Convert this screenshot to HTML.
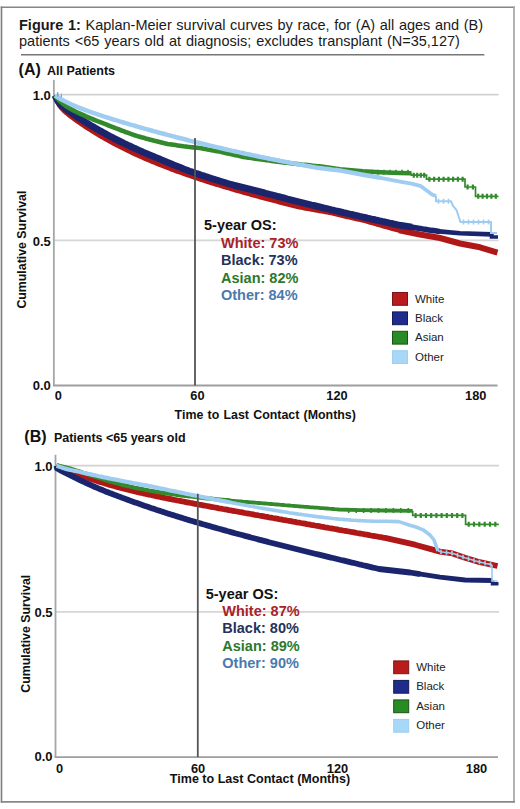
<!DOCTYPE html>
<html><head><meta charset="utf-8">
<style>
html,body{margin:0;padding:0;background:#fff;overflow:hidden;}
svg{display:block;}
text{font-family:"Liberation Sans",sans-serif;}
</style></head><body>
<svg width="520" height="809" viewBox="0 0 520 809">
<rect x="0" y="0" width="520" height="809" fill="#fff"/>
<line x1="0.7" y1="7.2" x2="514.8" y2="7.2" stroke="#858585" stroke-width="1.6"/>
<line x1="1.5" y1="6.4" x2="1.5" y2="802.6" stroke="#7c7c7c" stroke-width="1.6"/>
<line x1="514" y1="6.4" x2="514" y2="802.6" stroke="#a5a5a5" stroke-width="1.7"/>
<line x1="0.7" y1="801.9" x2="514.8" y2="801.9" stroke="#888" stroke-width="1.7"/>
<text x="19" y="29.5" font-size="14.5" fill="#1a1a1a" word-spacing="0.6"><tspan font-weight="bold">Figure 1:</tspan> Kaplan-Meier survival curves by race, for (A) all ages and (B)</text>
<text x="19" y="46.3" font-size="14.5" fill="#1a1a1a" word-spacing="0.9">patients &lt;65 years old at diagnosis; excludes transplant (N=35,127)</text>
<line x1="21" y1="54.8" x2="484.4" y2="54.8" stroke="#777" stroke-width="1.6"/>
<line x1="53.6" y1="94.7" x2="498.6" y2="94.7" stroke="#d2d2d2" stroke-width="1.8"/>
<line x1="53.6" y1="240.3" x2="498.6" y2="240.3" stroke="#d6d6d6" stroke-width="1.8"/>
<line x1="53.85" y1="80" x2="53.85" y2="385.5" stroke="#a6a6a6" stroke-width="1.8"/>
<line x1="52.95" y1="385.5" x2="497.5" y2="385.5" stroke="#9e9e9e" stroke-width="1.9"/>
<text x="50.8" y="99.9" text-anchor="end" font-size="13" font-weight="bold" fill="#111">1.0</text>
<text x="50.8" y="245.5" text-anchor="end" font-size="13" font-weight="bold" fill="#111">0.5</text>
<text x="50.8" y="390.3" text-anchor="end" font-size="13" font-weight="bold" fill="#111">0.0</text>
<text x="58.2" y="400.4" text-anchor="middle" font-size="12.8" font-weight="bold" fill="#111">0</text>
<text x="197.4" y="400.4" text-anchor="middle" font-size="12.8" font-weight="bold" fill="#111">60</text>
<text x="337" y="400.4" text-anchor="middle" font-size="12.8" font-weight="bold" fill="#111">120</text>
<text x="475.7" y="400.4" text-anchor="middle" font-size="12.8" font-weight="bold" fill="#111">180</text>
<text x="174.6" y="419.3" font-size="12.4" font-weight="bold" fill="#111" word-spacing="0.8">Time to Last Contact (Months)</text>
<text transform="translate(25.8,308.6) rotate(-90)" font-size="12.35" font-weight="bold" fill="#111">Cumulative Survival</text>
<text x="18.6" y="74.8" font-size="16" font-weight="bold" fill="#111">(A)</text>
<text x="47" y="75.3" font-size="12.5" font-weight="bold" fill="#111">All Patients</text>
<text x="204" y="230.3" font-size="14.5" font-weight="bold" fill="#111">5-year OS:</text>
<text x="221" y="247.70000000000002" font-size="14.5" font-weight="bold" fill="#a82229">White: 73%</text>
<text x="221" y="265.1" font-size="14.5" font-weight="bold" fill="#25325a">Black: 73%</text>
<text x="221" y="282.5" font-size="14.5" font-weight="bold" fill="#2d782d">Asian: 82%</text>
<text x="221" y="299.9" font-size="14.5" font-weight="bold" fill="#4a7aad">Other: 84%</text>
<rect x="392.5" y="292.5" width="15" height="12.8" fill="#b81c1c" stroke="#7a1616" stroke-width="1"/>
<text x="415" y="302.5" font-size="11.5" fill="#222">White</text>
<rect x="392.5" y="311.9" width="15" height="12.8" fill="#1f2c8c" stroke="#121a58" stroke-width="1"/>
<text x="415" y="321.9" font-size="11.5" fill="#222">Black</text>
<rect x="392.5" y="331.3" width="15" height="12.8" fill="#2a8a24" stroke="#175417" stroke-width="1"/>
<text x="415" y="341.3" font-size="11.5" fill="#222">Asian</text>
<rect x="392.5" y="350.7" width="15" height="12.8" fill="#a8d7f7" stroke="#9ccff2" stroke-width="1"/>
<text x="415" y="360.7" font-size="11.5" fill="#222">Other</text>
<polyline points="55.0,95.5 55.5,97.1 57.5,102.1 59.5,105.5 61.5,108.1 63.5,110.1 65.5,112.0 67.5,113.6 69.5,115.2 71.5,116.8 73.5,118.2 75.5,119.7 77.5,121.1 79.5,122.5 81.5,123.9 83.5,125.2 85.5,126.6 87.5,127.9 89.5,129.2 91.5,130.4 93.5,131.7 95.5,132.9 97.5,134.1 99.5,135.3 101.5,136.5 103.5,137.6 105.5,138.8 107.5,139.9 109.5,141.0 111.5,142.1 113.5,143.2 115.5,144.2 117.5,145.3 119.5,146.3 121.5,147.3 123.5,148.3 125.5,149.3 127.5,150.3 129.5,151.3 131.5,152.2 133.5,153.2 135.5,154.1 137.5,155.0 139.5,155.9 141.5,156.8 143.5,157.7 145.5,158.6 147.5,159.4 149.5,160.3 151.5,161.1 153.5,162.0 155.5,162.8 157.5,163.6 159.5,164.4 161.5,165.2 163.5,166.0 165.5,166.8 167.5,167.5 169.5,168.3 171.5,169.1 173.5,169.8 175.5,170.6 177.5,171.3 179.5,172.0 181.5,172.7 183.5,173.4 185.5,174.1 187.5,174.8 189.5,175.5 191.5,176.2 193.5,176.9 195.5,177.6 197.5,178.2 199.5,178.9 201.5,179.6 203.5,180.2 205.5,180.9 207.5,181.5 209.5,182.1 211.5,182.8 213.5,183.4 215.5,184.0 217.5,184.6 219.5,185.2 221.5,185.8 223.5,186.5 225.5,187.1 227.5,187.6 229.5,188.2 231.5,188.8 233.5,189.4 235.5,190.0 237.5,190.6 239.5,191.1 241.5,191.7 243.5,192.3 245.5,192.8 247.5,193.4 249.5,193.9 251.5,194.5 253.5,195.1 255.5,195.6 257.5,196.1 259.5,196.7 261.5,197.2 263.5,197.8 265.5,198.3 267.5,198.8 269.5,199.3 271.5,199.9 273.5,200.4 275.5,200.9 277.5,201.4 279.5,202.0 281.5,202.5 283.5,203.0 285.5,203.5 287.5,204.0 289.5,204.5 291.5,205.0 293.5,205.5 295.5,206.0 297.5,206.5 299.5,207.0 301.5,207.4 303.5,207.8 305.5,208.2 307.5,208.5 309.5,208.9 311.5,209.3 313.5,209.6 315.5,210.0 317.5,210.3 319.5,210.7 321.5,211.1 323.5,211.4 325.5,211.8 327.5,212.1 329.5,212.5 331.5,212.9 333.5,213.4 335.5,213.9 337.5,214.3 339.5,214.8 341.5,215.3 343.5,215.7 345.5,216.2 347.5,216.7 349.5,217.1 351.5,217.6 353.5,218.1 355.5,218.5 357.5,219.0 359.5,219.4 361.5,219.9 363.5,220.4 365.5,220.8 367.5,221.4 369.5,222.0 371.5,222.6 373.5,223.1 375.5,223.7 377.5,224.3 379.5,224.8 381.5,225.4 383.5,226.0 385.5,226.6 387.5,227.1 389.5,227.7 391.5,228.3 393.5,228.8 395.5,229.4 397.5,229.8 399.5,230.3 400.0,230.4" fill="none" stroke="#b01818" stroke-width="5" stroke-linejoin="round" stroke-linecap="butt"/>
<polyline points="399.2,230.2 420.0,234.5 440.0,238.0 460.0,243.5 480.0,247.3 497.5,252.6" fill="none" stroke="#b01818" stroke-width="6" stroke-linejoin="round" stroke-linecap="butt"/>
<polyline points="55.0,95.5 55.5,96.7 57.5,100.4 59.5,103.1 61.5,105.2 63.5,107.0 65.5,108.7 67.5,110.2 69.5,111.6 71.5,113.0 73.5,114.4 75.5,115.7 77.5,117.1 79.5,118.4 81.5,119.7 83.5,120.9 85.5,122.2 87.5,123.4 89.5,124.6 91.5,125.8 93.5,127.0 95.5,128.2 97.5,129.3 99.5,130.5 101.5,131.6 103.5,132.7 105.5,133.8 107.5,134.9 109.5,136.0 111.5,137.0 113.5,138.1 115.5,139.1 117.5,140.1 119.5,141.1 121.5,142.1 123.5,143.1 125.5,144.0 127.5,145.0 129.5,145.9 131.5,146.9 133.5,147.8 135.5,148.7 137.5,149.6 139.5,150.5 141.5,151.4 143.5,152.3 145.5,153.1 147.5,154.0 149.5,154.8 151.5,155.7 153.5,156.5 155.5,157.3 157.5,158.1 159.5,158.9 161.5,159.8 163.5,160.6 165.5,161.5 167.5,162.3 169.5,163.2 171.5,164.0 173.5,164.8 175.5,165.6 177.5,166.4 179.5,167.2 181.5,168.0 183.5,168.8 185.5,169.6 187.5,170.3 189.5,171.1 191.5,171.8 193.5,172.5 195.5,173.2 197.5,173.8 199.5,174.5 201.5,175.2 203.5,175.8 205.5,176.5 207.5,177.1 209.5,177.8 211.5,178.4 213.5,179.1 215.5,179.7 217.5,180.3 219.5,180.9 221.5,181.6 223.5,182.2 225.5,182.8 227.5,183.4 229.5,184.0 231.5,184.5 233.5,185.1 235.5,185.6 237.5,186.1 239.5,186.6 241.5,187.1 243.5,187.6 245.5,188.1 247.5,188.6 249.5,189.1 251.5,189.6 253.5,190.1 255.5,190.6 257.5,191.1 259.5,191.6 261.5,192.1 263.5,192.6 265.5,193.2 267.5,193.7 269.5,194.3 271.5,194.8 273.5,195.3 275.5,195.8 277.5,196.4 279.5,196.9 281.5,197.4 283.5,197.9 285.5,198.4 287.5,199.0 289.5,199.5 291.5,200.0 293.5,200.5 295.5,201.0 297.5,201.5 299.5,202.0 301.5,202.5 303.5,203.0 305.5,203.5 307.5,204.0 309.5,204.5 311.5,205.0 313.5,205.4 315.5,205.9 317.5,206.4 319.5,206.9 321.5,207.4 323.5,207.9 325.5,208.3 327.5,208.8 329.5,209.3 331.5,209.8 333.5,210.2 335.5,210.7 337.5,211.2 339.5,211.6 341.5,212.1 343.5,212.6 345.5,213.0 347.5,213.5 349.5,214.0 351.5,214.4 353.5,214.9 355.5,215.3 357.5,215.8 359.5,216.3 361.5,216.7 363.5,217.2 365.5,217.6 367.5,218.1 369.5,218.5 371.5,219.0 373.5,219.4 375.5,219.9 377.5,220.3 379.5,220.8 381.5,221.2 383.5,221.7 385.5,222.1 387.5,222.5 389.5,223.0 391.5,223.4 393.5,223.9 395.5,224.3 397.5,224.8 399.5,225.2 412.0,227.2" fill="none" stroke="#1a256e" stroke-width="6.8" stroke-linejoin="round" stroke-linecap="butt"/>
<polyline points="411.0,227.0 414.0,227.5 417.0,228.0 420.0,228.5 423.0,229.0 426.0,229.4 429.0,229.9 432.0,230.4 435.0,230.8 438.0,231.3" fill="none" stroke="#1a256e" stroke-width="5.6" stroke-linejoin="round" stroke-linecap="round"/>
<polyline points="439.0,231.4 460.0,233.3 491.5,234.4" fill="none" stroke="#1a256e" stroke-width="4.6" stroke-linejoin="round" stroke-linecap="round"/>
<path d="M491.5,234.4V237H498" stroke="#1a256e" stroke-width="3.6" fill="none"/>
<polyline points="55.0,95.5 55.5,96.2 57.5,98.7 59.5,100.8 61.5,102.6 63.5,104.3 65.5,105.7 67.5,107.0 69.5,108.2 71.5,109.4 73.5,110.4 75.5,111.5 77.5,112.5 79.5,113.4 81.5,114.3 83.5,115.2 85.5,116.1 87.5,117.0 89.5,117.8 91.5,118.7 93.5,119.5 95.5,120.3 97.5,121.1 99.5,121.8 101.5,122.6 103.5,123.4 105.5,124.1 107.5,125.0 109.5,125.8 111.5,126.6 113.5,127.4 115.5,128.2 117.5,128.9 119.5,129.7 121.5,130.5 123.5,131.2 125.5,132.0 127.5,132.7 129.5,133.4 131.5,134.1 133.5,134.8 135.5,135.5 137.5,136.1 139.5,136.7 141.5,137.3 143.5,137.8 145.5,138.4 147.5,138.9 149.5,139.5 151.5,140.0 153.5,140.5 155.5,141.1 157.5,141.6 159.5,142.1 161.5,142.6 163.5,143.1 165.5,143.5 167.5,143.9 169.5,144.2 171.5,144.5 173.5,144.8 175.5,145.1 177.5,145.4 179.5,145.7 181.5,146.0 183.5,146.3 185.5,146.5 187.5,146.8 189.5,147.0 191.5,147.2 193.5,147.4 195.5,147.6 197.5,147.8 199.5,148.0 201.5,148.3 203.5,148.7 205.5,149.1 207.5,149.5 209.5,149.8 211.5,150.2 213.5,150.5 215.5,150.9 217.5,151.3 219.5,151.6 221.5,152.0 223.5,152.5 225.5,152.9 227.5,153.4 229.5,153.8 231.5,154.3 233.5,154.7 235.5,155.2 237.5,155.6 239.5,156.0 241.5,156.4 243.5,156.9 245.5,157.3 247.5,157.6 249.5,157.8 251.5,158.1 253.5,158.4 255.5,158.7 257.5,159.0 259.5,159.3 261.5,159.5 263.5,159.8 265.5,160.1 267.5,160.3 269.5,160.6 271.5,160.9 273.5,161.1 275.5,161.4 277.5,161.6 279.5,161.9 281.5,162.1 283.5,162.4 285.5,162.6 287.5,162.8 289.5,163.1 291.5,163.3 293.5,163.6 295.5,163.8 297.5,164.0 299.5,164.2 301.5,164.5 303.5,164.7 305.5,164.9 307.5,165.1 309.5,165.3 311.5,165.6 313.5,165.8 315.5,166.0 317.5,166.2 319.5,166.4 340.0,169.3 363.0,171.2 380.0,172.2 400.0,173.0 411.5,173.3" fill="none" stroke="#338a2c" stroke-width="4.6" stroke-linejoin="round" stroke-linecap="butt"/>
<path d="M366.0,169.8v5M372.0,169.8v5M378.0,169.8v5M384.0,169.8v5M390.0,169.8v5M396.0,169.8v5M402.0,169.8v5M408.0,169.8v5" stroke="#338a2c" stroke-width="1.6" fill="none"/>
<polyline points="411.5,173.3 411.5,175.2 426.5,175.2 426.5,179.2 465.0,179.2 465.0,187.0 475.5,187.0 475.5,196.3 498.5,196.3" fill="none" stroke="#338a2c" stroke-width="1.7"/>
<path d="M413.8,172.7v5M417.2,172.7v5M420.8,172.7v5M424.2,172.7v5M429.4,176.7v5M434.1,176.7v5M438.9,176.7v5M443.6,176.7v5M448.4,176.7v5M453.1,176.7v5M457.9,176.7v5M462.6,176.7v5M467.6,184.5v5M472.9,184.5v5M478.2,193.8v5M482.6,193.8v5M487.0,193.8v5M491.4,193.8v5M495.8,193.8v5" stroke="#338a2c" stroke-width="2.2" fill="none"/>
<polyline points="55.0,95.5 55.5,95.8 57.5,97.1 59.5,98.3 61.5,99.5 63.5,100.5 65.5,101.6 67.5,102.6 69.5,103.5 71.5,104.5 73.5,105.3 75.5,106.2 77.5,107.0 79.5,107.8 81.5,108.6 83.5,109.4 85.5,110.1 87.5,110.9 89.5,111.6 91.5,112.3 93.5,113.0 95.5,113.7 97.5,114.3 99.5,115.0 101.5,115.7 103.5,116.3 105.5,117.0 107.5,117.6 109.5,118.2 111.5,118.9 113.5,119.5 115.5,120.1 117.5,120.7 119.5,121.3 121.5,121.9 123.5,122.5 125.5,123.1 127.5,123.7 129.5,124.3 131.5,124.9 133.5,125.4 135.5,126.0 137.5,126.6 139.5,127.2 141.5,127.7 143.5,128.3 145.5,128.9 147.5,129.4 149.5,130.0 151.5,130.5 153.5,131.1 155.5,131.6 157.5,132.2 159.5,132.7 161.5,133.3 163.5,133.8 165.5,134.3 167.5,134.9 169.5,135.4 171.5,135.9 173.5,136.4 175.5,137.0 177.5,137.5 179.5,138.0 181.5,138.5 183.5,139.0 185.5,139.5 187.5,140.0 189.5,140.6 191.5,141.1 193.5,141.6 195.5,142.1 197.5,142.5 199.5,143.0 201.5,143.5 203.5,144.0 205.5,144.5 207.5,145.0 209.5,145.5 211.5,145.9 213.5,146.4 215.5,146.9 217.5,147.4 219.5,147.8 221.5,148.3 223.5,148.8 225.5,149.2 227.5,149.7 229.5,150.1 231.5,150.6 233.5,151.0 235.5,151.5 237.5,151.9 239.5,152.4 241.5,152.8 243.5,153.2 245.5,153.7 247.5,154.1 249.5,154.5 251.5,155.0 253.5,155.4 255.5,155.8 257.5,156.2 259.5,156.7 261.5,157.1 263.5,157.5 265.5,157.9 267.5,158.3 269.5,158.7 271.5,159.1 273.5,159.5 275.5,159.9 277.5,160.3 279.5,160.7 281.5,161.1 283.5,161.5 285.5,161.9 287.5,162.3 289.5,162.6 291.5,163.0 293.5,163.4 295.5,163.8 297.5,164.2 299.5,164.5 301.5,164.9 303.5,165.3 305.5,165.6 307.5,166.0 309.5,166.3 311.5,166.7 313.5,167.0 315.5,167.4 317.5,167.7 319.5,168.1 321.5,168.3 323.5,168.6 325.5,168.8 327.5,169.0 329.5,169.2 331.5,169.5 333.5,169.7 335.5,169.9 337.5,170.1 339.5,170.4 363.0,174.8 380.0,177.8" fill="none" stroke="#9fcdf2" stroke-width="4.5" stroke-linejoin="round" stroke-linecap="butt"/>
<polyline points="379.2,177.7 400.0,181.6 411.5,183.6 421.0,186.2 427.0,190.8 432.0,194.5 436.0,196.0" fill="none" stroke="#9fcdf2" stroke-width="3.8" stroke-linejoin="round" stroke-linecap="butt"/>
<polyline points="436.0,196.0 436.0,201.3 451.0,201.3 453.0,206.0 456.5,210.0 459.0,217.7 460.5,222.1 491.0,222.1 491.0,233.0 497.0,233.0" fill="none" stroke="#9fcdf2" stroke-width="2"/>
<path d="M438.5,198.8v5M443.5,198.8v5M448.5,198.8v5M463.5,219.6v5M468.5,219.6v5M473.5,219.6v5M478.5,219.6v5M483.5,219.6v5M488.5,219.6v5" stroke="#9fcdf2" stroke-width="1.6" fill="none"/>
<path d="M57.7,92v4.5M61.4,93.8v3.4" stroke="#86a6cc" stroke-width="1.3" fill="none"/>
<line x1="195" y1="138" x2="195" y2="385.5" stroke="#555" stroke-width="1.8"/>
<line x1="56" y1="465.6" x2="499" y2="465.6" stroke="#d2d2d2" stroke-width="1.8"/>
<line x1="56" y1="611.9" x2="499" y2="611.9" stroke="#d6d6d6" stroke-width="1.8"/>
<line x1="55.5" y1="454.8" x2="55.5" y2="757.1" stroke="#a6a6a6" stroke-width="1.8"/>
<line x1="54.6" y1="757.1" x2="498" y2="757.1" stroke="#9e9e9e" stroke-width="1.9"/>
<text x="52.6" y="470.8" text-anchor="end" font-size="13" font-weight="bold" fill="#111">1.0</text>
<text x="52.6" y="617.1" text-anchor="end" font-size="13" font-weight="bold" fill="#111">0.5</text>
<text x="52.6" y="761.4000000000001" text-anchor="end" font-size="13" font-weight="bold" fill="#111">0.0</text>
<text x="59.5" y="772.6" text-anchor="middle" font-size="12.8" font-weight="bold" fill="#111">0</text>
<text x="198.1" y="772.6" text-anchor="middle" font-size="12.8" font-weight="bold" fill="#111">60</text>
<text x="337.5" y="772.6" text-anchor="middle" font-size="12.8" font-weight="bold" fill="#111">120</text>
<text x="476.5" y="772.6" text-anchor="middle" font-size="12.8" font-weight="bold" fill="#111">180</text>
<text x="169.8" y="783" font-size="12.55" font-weight="bold" fill="#111" word-spacing="0">Time to Last Contact (Months)</text>
<text transform="translate(29.8,692.7) rotate(-90)" font-size="12.35" font-weight="bold" fill="#111">Cumulative Survival</text>
<text x="24.3" y="442.3" font-size="16" font-weight="bold" fill="#111">(B)</text>
<text x="53.9" y="442.3" font-size="12.5" font-weight="bold" fill="#111">Patients <65 years old</text>
<text x="205.7" y="599" font-size="14.5" font-weight="bold" fill="#111">5-year OS:</text>
<text x="222.29999999999998" y="616.2" font-size="14.5" font-weight="bold" fill="#a82229">White: 87%</text>
<text x="222.29999999999998" y="633.4" font-size="14.5" font-weight="bold" fill="#25325a">Black: 80%</text>
<text x="222.29999999999998" y="650.6" font-size="14.5" font-weight="bold" fill="#2d782d">Asian: 89%</text>
<text x="222.29999999999998" y="667.8" font-size="14.5" font-weight="bold" fill="#4a7aad">Other: 90%</text>
<rect x="393.7" y="660.9" width="15" height="12.8" fill="#b81c1c" stroke="#7a1616" stroke-width="1"/>
<text x="416.2" y="670.9" font-size="11.5" fill="#222">White</text>
<rect x="393.7" y="680.4" width="15" height="12.8" fill="#1f2c8c" stroke="#121a58" stroke-width="1"/>
<text x="416.2" y="690.4" font-size="11.5" fill="#222">Black</text>
<rect x="393.7" y="699.9" width="15" height="12.8" fill="#2a8a24" stroke="#175417" stroke-width="1"/>
<text x="416.2" y="709.9" font-size="11.5" fill="#222">Asian</text>
<rect x="393.7" y="719.4" width="15" height="12.8" fill="#a8d7f7" stroke="#9ccff2" stroke-width="1"/>
<text x="416.2" y="729.4" font-size="11.5" fill="#222">Other</text>
<polyline points="56.5,465.8 57.0,466.0 59.0,466.8 61.0,467.6 63.0,468.4 65.0,469.2 67.0,470.0 69.0,470.8 71.0,471.6 73.0,472.4 75.0,473.1 77.0,473.9 79.0,474.7 81.0,475.4 83.0,476.1 85.0,476.9 87.0,477.6 89.0,478.3 91.0,479.0 93.0,479.6 95.0,480.3 97.0,481.0 99.0,481.6 101.0,482.2 103.0,482.8 105.0,483.4 107.0,484.0 109.0,484.6 111.0,485.2 113.0,485.8 115.0,486.3 117.0,486.9 119.0,487.4 121.0,487.9 123.0,488.5 125.0,489.0 127.0,489.5 129.0,490.0 131.0,490.5 133.0,490.9 135.0,491.4 137.0,491.9 139.0,492.4 141.0,492.8 143.0,493.3 145.0,493.7 147.0,494.2 149.0,494.6 151.0,495.0 153.0,495.5 155.0,495.9 157.0,496.3 159.0,496.7 161.0,497.1 163.0,497.6 165.0,498.0 167.0,498.4 169.0,498.8 171.0,499.2 173.0,499.6 175.0,500.0 177.0,500.4 179.0,500.7 181.0,501.1 183.0,501.5 185.0,501.9 187.0,502.3 189.0,502.7 191.0,503.0 193.0,503.4 195.0,503.8 197.0,504.2 199.0,504.6 201.0,504.9 203.0,505.3 205.0,505.7 207.0,506.0 209.0,506.4 211.0,506.8 213.0,507.2 215.0,507.5 217.0,507.9 219.0,508.3 221.0,508.6 223.0,509.0 225.0,509.3 227.0,509.7 229.0,510.1 231.0,510.4 233.0,510.8 235.0,511.2 237.0,511.5 239.0,511.9 241.0,512.2 243.0,512.6 245.0,513.0 247.0,513.3 249.0,513.7 251.0,514.0 253.0,514.4 255.0,514.8 257.0,515.1 259.0,515.5 261.0,515.8 263.0,516.2 265.0,516.6 267.0,516.9 269.0,517.3 271.0,517.6 273.0,518.0 275.0,518.3 277.0,518.7 279.0,519.1 281.0,519.4 283.0,519.8 285.0,520.1 287.0,520.5 289.0,520.8 291.0,521.2 293.0,521.6 295.0,521.9 297.0,522.3 299.0,522.6 301.0,523.0 303.0,523.3 305.0,523.7 307.0,524.1 309.0,524.4 311.0,524.8 313.0,525.1 315.0,525.5 317.0,525.8 319.0,526.2 321.0,526.6 323.0,526.9 325.0,527.3 327.0,527.6 329.0,528.0 331.0,528.3 333.0,528.7 335.0,529.0 337.0,529.4 339.0,529.8 341.0,530.1 343.0,530.5 345.0,530.8 347.0,531.2 349.0,531.5 351.0,531.9 353.0,532.2 355.0,532.6 357.0,533.0 359.0,533.3 361.0,533.7 363.0,534.0 365.0,534.4 367.0,534.7 369.0,535.1 371.0,535.5 373.0,535.8 375.0,536.2 377.0,536.5 379.0,536.9 381.0,537.2 383.0,537.6 385.0,537.9 415.0,544.7 440.0,551.6 452.5,553.4 465.0,557.8 477.5,561.6 497.5,566.0" fill="none" stroke="#b01818" stroke-width="5.8" stroke-linejoin="round" stroke-linecap="butt"/>
<polyline points="56.5,465.8 57.0,468.5 59.0,469.5 61.0,470.6 63.0,471.6 65.0,472.7 67.0,473.7 69.0,474.7 71.0,475.7 73.0,476.7 75.0,477.7 77.0,478.6 79.0,479.6 81.0,480.6 83.0,481.5 85.0,482.5 87.0,483.4 89.0,484.3 91.0,485.2 93.0,486.1 95.0,487.0 97.0,487.8 99.0,488.7 101.0,489.5 103.0,490.3 105.0,491.2 107.0,492.0 109.0,492.8 111.0,493.5 113.0,494.3 115.0,495.1 117.0,495.8 119.0,496.6 121.0,497.3 123.0,498.1 125.0,498.8 127.0,499.5 129.0,500.3 131.0,501.0 133.0,501.7 135.0,502.4 137.0,503.1 139.0,503.8 141.0,504.5 143.0,505.2 145.0,505.9 147.0,506.6 149.0,507.3 151.0,508.0 153.0,508.6 155.0,509.3 157.0,510.0 159.0,510.6 161.0,511.3 163.0,511.9 165.0,512.6 167.0,513.2 169.0,513.9 171.0,514.5 173.0,515.1 175.0,515.8 177.0,516.4 179.0,517.0 181.0,517.6 183.0,518.3 185.0,518.9 187.0,519.5 189.0,520.1 191.0,520.7 193.0,521.3 195.0,521.9 197.0,522.5 199.0,523.0 201.0,523.6 203.0,524.2 205.0,524.8 207.0,525.4 209.0,525.9 211.0,526.5 213.0,527.1 215.0,527.6 217.0,528.2 219.0,528.8 221.0,529.3 223.0,529.9 225.0,530.4 227.0,531.0 229.0,531.5 231.0,532.1 233.0,532.6 235.0,533.2 237.0,533.7 239.0,534.3 241.0,534.8 243.0,535.3 245.0,535.9 247.0,536.4 249.0,536.9 251.0,537.5 253.0,538.0 255.0,538.5 257.0,539.0 259.0,539.6 261.0,540.1 263.0,540.6 265.0,541.1 267.0,541.6 269.0,542.2 271.0,542.7 273.0,543.2 275.0,543.7 277.0,544.2 279.0,544.7 281.0,545.2 283.0,545.7 285.0,546.2 287.0,546.7 289.0,547.2 291.0,547.7 293.0,548.2 295.0,548.7 297.0,549.2 299.0,549.7 301.0,550.2 303.0,550.7 305.0,551.2 307.0,551.7 309.0,552.2 311.0,552.7 313.0,553.2 315.0,553.7 317.0,554.2 319.0,554.6 321.0,555.1 323.0,555.6 325.0,556.1 327.0,556.6 329.0,557.1 331.0,557.6 333.0,558.0 335.0,558.5 337.0,559.0 339.0,559.5 341.0,560.0 343.0,560.4 345.0,560.9 347.0,561.4 349.0,561.9 351.0,562.4 353.0,562.8 355.0,563.3 357.0,563.8 359.0,564.3 361.0,564.7 363.0,565.2 365.0,565.7 367.0,566.1 369.0,566.6 371.0,567.1 373.0,567.6 375.0,568.0 377.0,568.5 379.0,569.0 410.0,572.5 420.0,574.1" fill="none" stroke="#1a256e" stroke-width="5.8" stroke-linejoin="round" stroke-linecap="butt"/>
<polyline points="419.2,573.9 440.0,577.2 465.0,580.0 492.5,580.5" fill="none" stroke="#1a256e" stroke-width="4.8" stroke-linejoin="round" stroke-linecap="butt"/>
<path d="M492.5,580.5V583.8H498.5" stroke="#1a256e" stroke-width="3.5" fill="none"/>
<polyline points="56.5,465.8 57.0,465.9 59.0,466.1 61.0,466.4 63.0,466.8 65.0,467.3 67.0,467.8 69.0,468.3 71.0,468.8 73.0,469.4 75.0,470.1 77.0,470.7 79.0,471.3 81.0,472.0 83.0,472.7 85.0,473.3 87.0,474.0 89.0,474.7 91.0,475.4 93.0,476.0 95.0,476.7 97.0,477.3 99.0,478.0 101.0,478.6 103.0,479.2 105.0,479.9 107.0,480.5 109.0,481.1 111.0,481.6 113.0,482.2 115.0,482.8 117.0,483.3 119.0,483.8 121.0,484.4 123.0,484.9 125.0,485.4 127.0,485.9 129.0,486.3 131.0,486.8 133.0,487.2 135.0,487.7 137.0,488.1 139.0,488.5 141.0,488.9 143.0,489.3 145.0,489.7 147.0,490.1 149.0,490.5 151.0,490.8 153.0,491.2 155.0,491.5 157.0,491.8 159.0,492.2 161.0,492.5 163.0,492.8 165.0,493.1 167.0,493.4 169.0,493.7 171.0,494.0 173.0,494.2 175.0,494.5 177.0,494.8 179.0,495.0 181.0,495.3 183.0,495.6 185.0,495.8 187.0,496.0 189.0,496.3 191.0,496.5 193.0,496.7 195.0,497.0 197.0,497.2 199.0,497.4 201.0,497.6 203.0,497.8 205.0,498.1 207.0,498.3 209.0,498.5 211.0,498.7 213.0,498.9 215.0,499.1 217.0,499.3 219.0,499.5 221.0,499.7 223.0,499.8 225.0,500.0 227.0,500.2 229.0,500.4 230.0,500.5" fill="none" stroke="#338a2c" stroke-width="4.2" stroke-linejoin="round" stroke-linecap="butt"/>
<polyline points="229.2,500.4 231.0,500.6 233.0,500.8 235.0,501.0 237.0,501.1 239.0,501.3 241.0,501.5 243.0,501.7 245.0,501.8 247.0,502.0 249.0,502.2 251.0,502.4 253.0,502.5 255.0,502.7 257.0,502.9 259.0,503.0 261.0,503.2 263.0,503.4 265.0,503.5 267.0,503.7 269.0,503.9 271.0,504.0 273.0,504.2 275.0,504.4 277.0,504.5 279.0,504.7 281.0,504.9 283.0,505.0 285.0,505.2 287.0,505.3 289.0,505.5 291.0,505.7 293.0,505.8 295.0,506.0 297.0,506.1 299.0,506.3 301.0,506.5 303.0,506.6 305.0,506.8 307.0,506.9 309.0,507.1 311.0,507.3 313.0,507.4 315.0,507.6 317.0,507.7 319.0,507.9 321.0,508.1 323.0,508.2 325.0,508.4 327.0,508.5 329.0,508.7 331.0,508.8 333.0,509.0 335.0,509.2 337.0,509.3 339.0,509.5 360.0,510.2 385.0,510.5 412.7,510.8" fill="none" stroke="#338a2c" stroke-width="3.8" stroke-linejoin="round" stroke-linecap="butt"/>
<path d="M348.7,508.1v5M356.2,508.1v5M363.6,508.1v5M371.1,508.1v5M378.5,508.1v5M385.9,508.1v5M393.4,508.1v5M400.8,508.1v5M408.3,508.1v5" stroke="#338a2c" stroke-width="1.6" fill="none"/>
<polyline points="412.7,510.8 412.7,515.4 465.6,515.4 465.6,524.3 498.8,524.3" fill="none" stroke="#338a2c" stroke-width="1.7"/>
<path d="M415.6,512.9v5M420.8,512.9v5M426.0,512.9v5M431.2,512.9v5M436.4,512.9v5M441.6,512.9v5M446.8,512.9v5M452.0,512.9v5M457.2,512.9v5M462.4,512.9v5M468.7,521.8v5M474.0,521.8v5M479.3,521.8v5M484.7,521.8v5M490.0,521.8v5M495.3,521.8v5" stroke="#338a2c" stroke-width="2.2" fill="none"/>
<polyline points="56.5,465.8 57.0,465.9 59.0,466.6 61.0,467.2 63.0,467.9 65.0,468.6 67.0,469.1 69.0,469.6 71.0,470.0 73.0,470.5 75.0,470.9 77.0,471.3 79.0,471.8 81.0,472.2 83.0,472.7 85.0,473.1 87.0,473.6 89.0,474.0 91.0,474.4 93.0,474.9 95.0,475.3 97.0,475.7 99.0,476.2 101.0,476.6 103.0,477.1 105.0,477.5 107.0,477.9 109.0,478.4 111.0,478.8 113.0,479.2 115.0,479.5 117.0,479.9 119.0,480.3 121.0,480.7 123.0,481.1 125.0,481.5 127.0,481.8 129.0,482.2 131.0,482.6 133.0,483.0 135.0,483.3 137.0,483.7 139.0,484.1 141.0,484.5 143.0,484.9 145.0,485.2 147.0,485.6 149.0,486.0 151.0,486.4 153.0,486.8 155.0,487.2 157.0,487.6 159.0,488.1 161.0,488.5 163.0,488.9 165.0,489.3 167.0,489.7 169.0,490.2 171.0,490.6 173.0,491.0 175.0,491.4 177.0,491.8 179.0,492.2 181.0,492.6 183.0,493.0 185.0,493.5 187.0,493.9 189.0,494.3 191.0,494.7 193.0,495.1 195.0,495.5 197.0,495.9 199.0,496.3 201.0,496.7 203.0,497.1 205.0,497.5 207.0,497.9 209.0,498.3 211.0,498.7 213.0,499.1 215.0,499.5 217.0,499.8 219.0,500.2 221.0,500.6 223.0,501.0 225.0,501.4 227.0,501.8 229.0,502.2 230.0,502.4" fill="none" stroke="#9fcdf2" stroke-width="4.2" stroke-linejoin="round" stroke-linecap="butt"/>
<polyline points="229.2,502.2 231.0,502.5 233.0,502.9 235.0,503.3 237.0,503.7 239.0,504.0 241.0,504.4 243.0,504.8 245.0,505.2 247.0,505.5 249.0,505.9 251.0,506.2 253.0,506.6 255.0,507.0 257.0,507.3 259.0,507.7 261.0,508.0 263.0,508.4 265.0,508.7 267.0,509.1 269.0,509.4 271.0,509.7 273.0,510.1 275.0,510.4 277.0,510.7 279.0,511.1 281.0,511.4 283.0,511.7 285.0,512.0 287.0,512.3 289.0,512.7 291.0,513.0 293.0,513.3 295.0,513.6 297.0,513.9 299.0,514.2 301.0,514.4 303.0,514.7 305.0,515.0 307.0,515.3 309.0,515.6 311.0,515.8 313.0,516.1 315.0,516.4 317.0,516.6 319.0,516.9 321.0,517.1 323.0,517.3 325.0,517.6 327.0,517.8 329.0,518.0 331.0,518.2 333.0,518.5 335.0,518.7 337.0,518.9 339.0,519.1 341.0,519.2 343.0,519.4 345.0,519.6 347.0,519.8 349.0,519.9 351.0,520.1 353.0,520.2 355.0,520.3 357.0,520.5 359.0,520.6 361.0,520.7 363.0,520.8 365.0,520.9 367.0,521.0 369.0,521.0 371.0,521.1 373.0,521.2 375.0,521.2 377.0,521.2 379.0,521.2 381.0,521.3 383.0,521.2 385.0,521.2 398.8,521.6 402.0,522.6 409.0,525.0 416.0,527.0 423.0,529.8 430.0,535.0 434.0,540.0 438.0,551.0" fill="none" stroke="#9fcdf2" stroke-width="3.6" stroke-linejoin="round" stroke-linecap="butt"/>
<polyline points="438.0,551.0 441.0,551.7 444.0,552.2 447.0,552.6 450.0,553.0 453.0,553.6 456.0,554.6 459.0,555.7 462.0,556.7 465.0,557.8 468.0,558.7 471.0,559.6 474.0,560.5 477.0,561.4 480.0,562.1 483.0,562.8 486.0,563.5 489.0,564.1 492.0,564.8" fill="none" stroke="#9fcdf2" stroke-width="1.6" stroke-linejoin="round" stroke-linecap="butt"/>
<path d="M441.0,549.5v4.5M446.5,550.3v4.5M452.0,551.1v4.5M457.5,552.9v4.5M463.0,554.8v4.5M468.5,556.6v4.5M474.0,558.3v4.5M479.5,559.8v4.5M485.0,561.0v4.5M490.5,562.2v4.5" stroke="#9fcdf2" stroke-width="1.6" fill="none"/>
<polyline points="492,564.8 492,581 497.5,581" fill="none" stroke="#9fcdf2" stroke-width="1.6"/>
<line x1="197.8" y1="493.8" x2="197.8" y2="757.1" stroke="#555" stroke-width="1.8"/>
</svg>
</body></html>
